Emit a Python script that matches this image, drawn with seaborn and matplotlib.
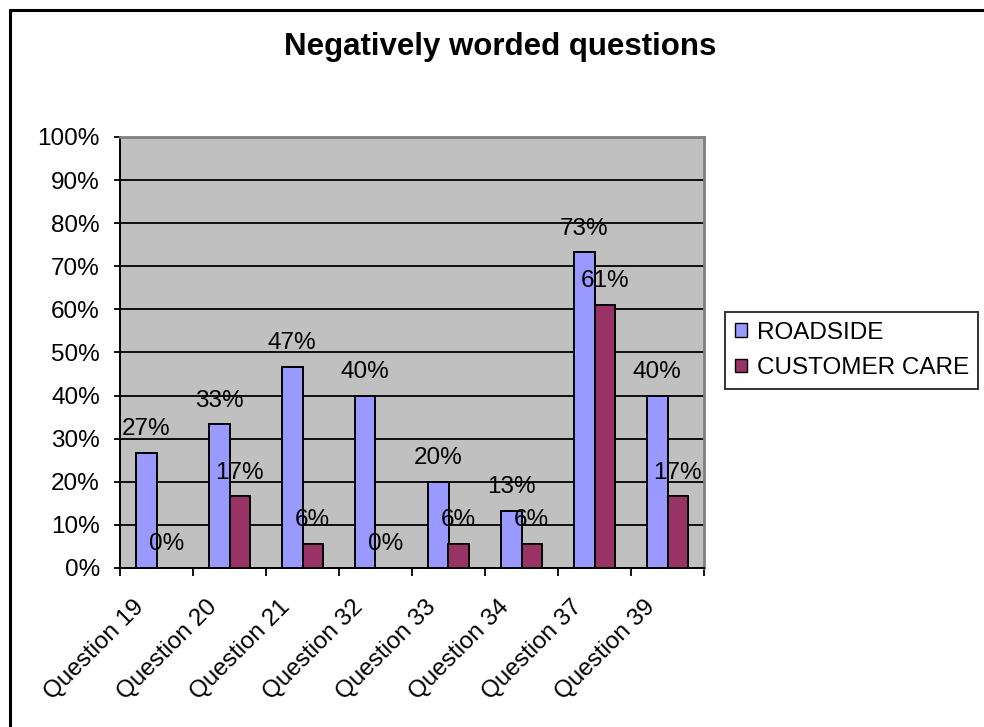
import numpy as np
import pandas as pd
import matplotlib
matplotlib.use("Agg")
import matplotlib.pyplot as plt
import matplotlib.transforms as mtransforms
from matplotlib.lines import Line2D
from matplotlib.patches import Patch
import seaborn as sns

# Share of respondents agreeing with each negatively worded question (%)
questions = ["Question 19", "Question 20", "Question 21", "Question 32",
             "Question 33", "Question 34", "Question 37", "Question 39"]
roadside = [26.7, 33.3, 46.7, 40.0, 20.0, 13.3, 73.3, 40.0]
customer_care = [0.0, 16.7, 5.6, 0.0, 5.6, 5.6, 61.1, 16.7]
series_names = ["ROADSIDE", "CUSTOMER CARE"]
series_colors = ["#9999FF", "#993366"]
y_ticks = list(range(0, 101, 10))

df = pd.DataFrame({
    "question": questions * 2,
    "value": roadside + customer_care,
    "series": [series_names[0]] * len(questions) + [series_names[1]] * len(questions),
})

sns.set_style("white")
plt.rcParams["font.family"] = ["Liberation Sans", "DejaVu Sans"]
plt.rcParams["text.color"] = "black"
plt.rcParams["xtick.color"] = "black"
plt.rcParams["ytick.color"] = "black"
plt.rcParams["xtick.labelcolor"] = "black"
plt.rcParams["ytick.labelcolor"] = "black"

FS = 17.5

fig = plt.figure(figsize=(9.84, 7.27), dpi=100)
ax = fig.add_axes([120 / 984, 1 - 568 / 727, 584 / 984, 431 / 727])
ax.set_facecolor("#C0C0C0")

sns.barplot(data=df, x="question", y="value", hue="series",
            palette=series_colors, width=0.56, gap=0,
            edgecolor="black", linewidth=1.4, saturation=1,
            legend=False, ax=ax, zorder=3)

# value labels above each bar
for cont in ax.containers:
    vals = [b.get_height() for b in cont]
    ax.bar_label(cont, labels=[f"{v:.0f}%" for v in vals], padding=9,
                 fontsize=FS, color="black", zorder=5)

ax.set_xlim(-0.5, len(questions) - 0.5)
ax.set_ylim(0, 100)
ax.set_yticks(y_ticks)
ax.set_yticklabels([f"{t}%" for t in y_ticks], fontsize=FS)
ax.yaxis.grid(True, color="black", linewidth=1.3, zorder=1)
ax.set_axisbelow(True)

# category boundaries carry the x tick marks, labels sit at the centres
ax.set_xticks(np.arange(len(questions)))
ax.set_xticks(np.arange(-0.5, len(questions)), minor=True)
ax.set_xticklabels(questions, rotation=45, ha="right", va="center",
                   rotation_mode="anchor", fontsize=FS)
ax.tick_params(axis="x", which="major", length=0, pad=26)
ax.tick_params(axis="x", which="minor", length=5.5, width=1.3,
               color="black", direction="out", bottom=True)
ax.tick_params(axis="y", length=4.5, width=1.3, color="black",
               direction="out", left=True, pad=10)
shift = mtransforms.ScaledTranslation(-16 / 100, 0, fig.dpi_scale_trans)
for lbl in ax.get_xticklabels():
    lbl.set_transform(lbl.get_transform() + shift)

ax.set_xlabel("")
ax.set_ylabel("")
for side in ["left", "bottom"]:
    ax.spines[side].set_color("black")
    ax.spines[side].set_linewidth(1.4)
for side in ["top", "right"]:
    ax.spines[side].set_color("#808080")
    ax.spines[side].set_linewidth(2)

handles = [Patch(facecolor=c, edgecolor="black", linewidth=1) for c in series_colors]
leg = fig.legend(handles, series_names, loc="upper left",
                 bbox_to_anchor=(725 / 984, 1 - 312 / 727),
                 frameon=True, fancybox=False, fontsize=FS,
                 handlelength=0.5, handleheight=0.5, handletextpad=0.4,
                 borderpad=0.4, labelspacing=0.55, borderaxespad=0)
leg.get_frame().set_edgecolor("black")
leg.get_frame().set_linewidth(1.4)

fig.text(500 / 984, 1 - 47 / 727, "Negatively worded questions",
         ha="center", va="center", fontsize=22.5, fontweight="bold")

# chart frame
x0 = 10 / 984
y0 = 1 - 10 / 727
fig.add_artist(Line2D([x0, x0], [0, y0], color="black", linewidth=2.2))
fig.add_artist(Line2D([x0, 1], [y0, y0], color="black", linewidth=2.2))

fig.savefig("out.png", dpi=100)
